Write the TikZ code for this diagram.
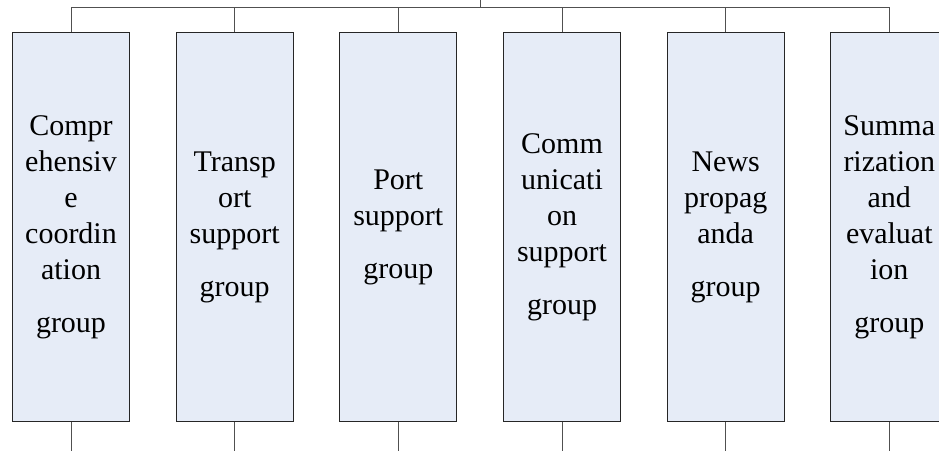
\documentclass[tikz,border=0pt]{standalone}
\usepackage{fontspec}
\setmainfont{Liberation Serif}
\definecolor{boxfill}{RGB}{230,236,247}
\definecolor{linegray}{RGB}{80,80,80}
\begin{document}
\begin{tikzpicture}[x=1pt,y=1pt,
  grp/.style={draw=black!85, line width=1.1pt, fill=boxfill, minimum width=117pt,
    minimum height=389.2pt, inner sep=0pt, align=center,
    font=\fontsize{30}{36}\selectfont},
  conn/.style={draw=linegray, line width=1pt}]
\clip (0,0) rectangle (939,-450);
\useasboundingbox (0,0) rectangle (939,-450);
\node[grp] (g1) at (71,-227.1) {Compr\\ehensiv\\e\\coordin\\ation\\[17pt]group};
\node[grp] (g2) at (234.7,-227.1) {Transp\\ort\\support\\[17pt]group};
\node[grp] (g3) at (398.3,-227.1) {Port\\support\\[17pt]group};
\node[grp] (g4) at (562,-227.1) {Comm\\unicati\\on\\support\\[17pt]group};
\node[grp] (g5) at (725.7,-227.1) {News\\propag\\anda\\[17pt]group};
\node[grp] (g6) at (889.3,-227.1) {Summa\\rization\\and\\evaluat\\ion\\[17pt]group};
\coordinate (top) at (480.3,0);
\coordinate (bus) at (480.3,-7);
\draw[conn] (g1.north) -- (g1.north|-bus) -- (g6.north|-bus) -- (g6.north);
\draw[conn] (top) -- (bus);
\foreach \i in {2,3,4,5} {\draw[conn] (g\i.north) -- (g\i.north|-bus);}
\foreach \i in {1,...,6} {\draw[conn] (g\i.south) -- ++(0,-30);}
\end{tikzpicture}
\end{document}
